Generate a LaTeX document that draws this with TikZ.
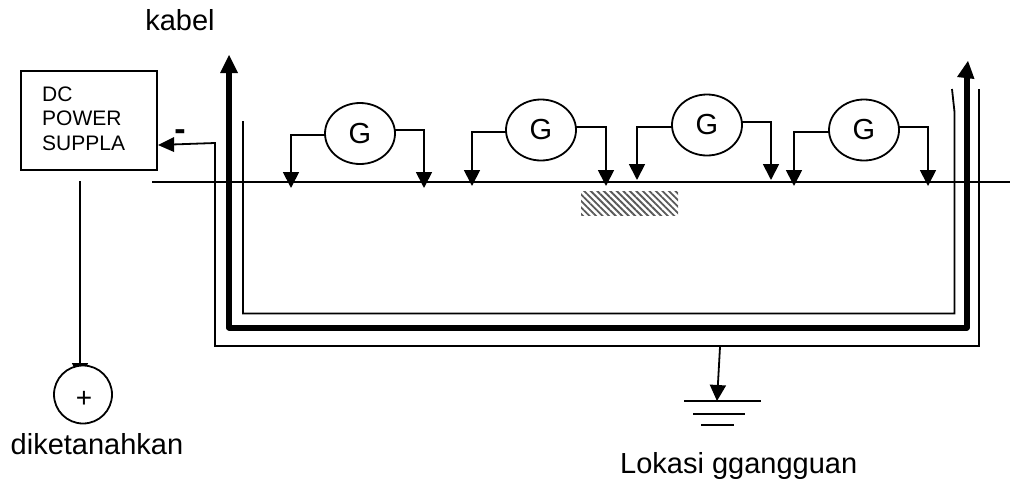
\documentclass[tikz,border=0pt]{standalone}
\usepackage{fontspec}
\setmainfont{Liberation Sans}
\usetikzlibrary{arrows.meta,patterns.meta,shapes.geometric}
\tikzset{
  wire/.style={draw=black,line width=1.8pt},
  tip/.style={wire,-{Triangle[width=16pt,length=16pt]}},
  thick cable/.style={draw=black,line width=6pt,line join=round},
  gauge/.style={draw=black,line width=1.8pt,ellipse,minimum width=70pt,minimum height=61pt,inner sep=0pt,font=\fontsize{29}{29}\selectfont},
  label/.style={inner sep=0pt,font=\fontsize{29}{29}\selectfont},
}
\begin{document}
\begin{tikzpicture}[x=1pt,y=-1pt]
\useasboundingbox (0,0) rectangle (1010,485);
% power supply
\node[draw=black,line width=1.8pt,minimum width=136pt,minimum height=99pt,inner sep=0pt] (psu) at (89,120.5) {};
\node[anchor=west,align=left,inner sep=0pt,font=\fontsize{21}{24.5}\selectfont] (psutext) at (42,118.5) {DC\\POWER\\SUPPLA};
\node[inner sep=0pt,font=\bfseries\fontsize{34}{34}\selectfont] (minus) at (180,135.5) {-};
% main conductor
\coordinate (mainl) at (152,182);
\coordinate (mainr) at (1010,182);
\draw[wire] (mainl) -- (mainr);
% earth electrode
\coordinate (psufoot) at (80,181);
\coordinate (plustop) at (80,379);
\draw[tip] (psufoot) -- (plustop);
\node[draw=black,fill=white,line width=1.8pt,circle,minimum size=58pt,inner sep=0pt] (plus) at (83,394.5) {};
\node[inner sep=0pt,font=\fontsize{28}{28}\selectfont] (plustext) at (84,399) {+};
% cable
\coordinate (a1) at (229,55);
\coordinate (a2) at (229,327.5);
\coordinate (a3) at (966.5,327.5);
\coordinate (a4) at (968,61);
\draw[thick cable] (229,70) -- (a2) -- (a3) -- (966.5,75);
\path[fill=black] (a1) -- (220,73) -- (238,73) -- cycle;
\path[fill=black] (a4) -- (957,77) -- (974.5,79) -- cycle;
% inner sheath
\coordinate (i1) at (243,121);
\coordinate (i2) at (243,313.5);
\coordinate (i3) at (954.5,313.5);
\coordinate (i4) at (954.5,112);
\coordinate (i5) at (952,89);
\draw[wire] (i1) -- (i2) -- (i3) -- (i4) -- (i5);
% outer sheath
\coordinate (o1) at (979,89);
\coordinate (o2) at (979,346);
\coordinate (o3) at (215,346);
\coordinate (o4) at (215,143);
\draw[wire] (o1) -- (o2) -- (o3) -- (o4) -- (172,144.5);
\path[fill=black] (158,145) -- (174,137) -- (174,152) -- cycle;
% galvanometers
\node[gauge] (g1) at (360,133.5) {\raisebox{-3.5pt}{G}};
\node[gauge] (g2) at (541,130) {\raisebox{-3.5pt}{G}};
\node[gauge] (g3) at (707,125) {\raisebox{-3.5pt}{G}};
\node[gauge] (g4) at (864,130) {\raisebox{-3.5pt}{G}};
\draw[tip] (325,135) -- (291,135) -- (291,188);
\draw[tip] (395,130) -- (424,130) -- (424,188);
\draw[tip] (506,132) -- (472,132) -- (472,186);
\draw[tip] (576,127) -- (606,127) -- (606,186);
\draw[tip] (672,127) -- (637,127) -- (637,180);
\draw[tip] (742,122) -- (771,122) -- (771,180);
\draw[tip] (829,132) -- (794,132) -- (794,186);
\draw[tip] (899,127) -- (928,127) -- (928,186);
% fault
\node[minimum width=97pt,minimum height=24pt,inner sep=0pt,pattern={Lines[angle=-45,distance=4.6pt,line width=1.8pt]},pattern color=black!65] (fault) at (629.5,203) {};
% ground
\coordinate (gtop) at (720,347);
\coordinate (gtip) at (717,401);
\draw[tip] (gtop) -- (gtip);
\draw[wire] (684,401) -- (761,401);
\draw[wire] (693,414) -- (745,414);
\draw[wire] (701,425) -- (734,425);
% labels
\node[label,anchor=base] (kabel) at (180,30) {kabel};
\node[label,anchor=base west] (dik) at (10.5,454) {diketanahkan};
\node[label,anchor=base west] (lok) at (620,473) {Lokasi ggangguan};
\end{tikzpicture}
\end{document}
